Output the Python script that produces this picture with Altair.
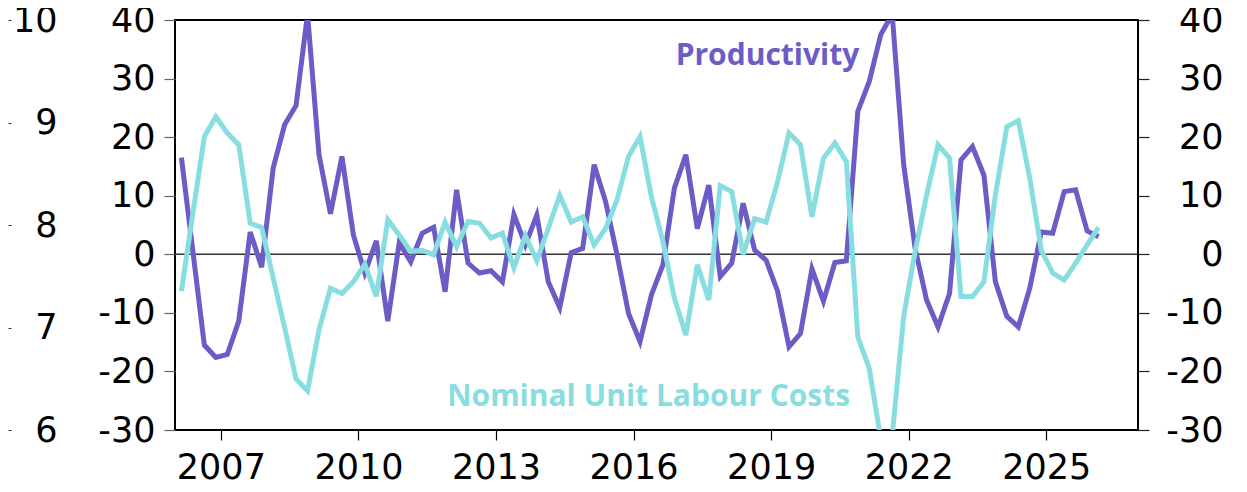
import altair as alt
import pandas as pd

# Quarterly series, % y/y
productivity = [16.5, 0.5, -15.5, -17.6, -17.1, -11.4, 3.8, -2.2, 14.7, 22.1,
                25.4, 41.0, 17.0, 6.9, 16.7, 3.3, -3.2, 2.3, -11.4, 2.0,
                -1.3, 3.6, 4.6, -6.4, 11.0, -1.5, -3.2, -2.8, -4.7, 6.8,
                1.6, 6.7, -4.7, -9.1, 0.3, 1.0, 15.3, 9.0, -0.1, -10.1,
                -14.9, -6.9, -1.8, 11.3, 17.0, 4.4, 11.8, -3.8, -1.5, 8.7,
                0.7, -1.0, -6.3, -15.8, -13.5, -2.5, -8.0, -1.4, -1.1, 24.4,
                29.5, 37.5, 41.0, 15.3, 1.0, -7.8, -12.4, -6.7, 16.1, 18.4,
                13.5, -4.7, -10.6, -12.4, -5.8, 3.8, 3.6, 10.7, 11.0, 4.0,
                3.0]
nulc = [-6.3, 7.0, 20.1, 23.5, 20.7, 18.7, 5.3, 4.6, -4.0, -12.5,
        -21.3, -23.3, -12.9, -5.8, -6.7, -4.7, -1.7, -7.2, 5.9, 3.3,
        0.5, 0.7, -0.1, 5.5, 1.3, 5.6, 5.3, 2.8, 3.6, -2.3,
        3.2, -1.1, 4.4, 10.1, 5.5, 6.4, 1.6, 4.4, 9.3, 16.7,
        20.1, 9.8, 2.2, -7.5, -13.8, -1.8, -7.8, 11.7, 10.7, 0.0,
        6.1, 5.5, 12.4, 20.7, 18.7, 6.4, 16.4, 19.0, 15.8, -14.1,
        -19.5, -31.5, -31.0, -10.6, 0.5, 10.1, 18.7, 16.4, -7.2, -7.2,
        -4.7, 10.1, 21.8, 22.8, 13.0, 0.7, -3.2, -4.4, -1.5, 1.6,
        4.6]
first_quarter = 2006.14
t = [round(first_quarter + 0.25 * i, 3) for i in range(len(productivity))]

x_ticks = [2007, 2010, 2013, 2016, 2019, 2022, 2025]
y_ticks = [-30, -20, -10, 0, 10, 20, 30, 40]
outer_ticks = [6, 7, 8, 9, 10]

labels_text = ["Productivity", "Nominal Unit Labour Costs"]
labels_x = [2018.92, 2016.33]
labels_y = [32.3, -25.85]

PURPLE = "#6B5CC6"
CYAN = "#88DDE0"
FONT = "DejaVu Sans"
W, H = 963, 410
HYPHEN = "'' + datum.value"

df = pd.DataFrame({"t": t, "Productivity": productivity, "NULC": nulc})

xscale = alt.Scale(domain=[2006, 2027], nice=False, zero=False)
yscale = alt.Scale(domain=[-30, 40], nice=False, zero=False)

x_axis = alt.Axis(values=x_ticks, labelExpr=HYPHEN, domain=False, grid=False,
                  tickSize=10, tickColor="#000", tickWidth=1.2,
                  labelFontSize=35, labelFont=FONT, labelColor="#000",
                  labelPadding=10, labelFlush=False, labelOverlap=False, title=None)
y_axis = alt.Axis(values=y_ticks, labelExpr=HYPHEN, orient="left", domain=False, grid=False,
                  tickSize=11, tickColor="#666", tickWidth=1.2,
                  labelFontSize=35, labelFont=FONT, labelColor="#000",
                  labelPadding=9, labelOverlap=False, labelFlush=False, title=None)

rule = alt.Chart(pd.DataFrame({"z": [0]})).mark_rule(color="#333", strokeWidth=1.6).encode(
    y=alt.Y("z:Q", scale=yscale, axis=y_axis))
purple = alt.Chart(df).mark_line(color=PURPLE, strokeWidth=5, clip=True).encode(
    x=alt.X("t:Q", scale=xscale, axis=x_axis),
    y=alt.Y("Productivity:Q", scale=yscale, axis=y_axis))
cyan = alt.Chart(df).mark_line(color=CYAN, strokeWidth=5, clip=True).encode(
    x=alt.X("t:Q", scale=xscale, axis=x_axis),
    y=alt.Y("NULC:Q", scale=yscale, axis=y_axis))

ann = pd.DataFrame({"t": labels_x, "y": labels_y, "text": labels_text})
t1 = alt.Chart(ann.iloc[[0]]).mark_text(font="Open Sans", fontWeight="bold", fontSize=30,
                                        color=PURPLE, align="center", baseline="alphabetic").encode(
    x=alt.X("t:Q", scale=xscale, axis=x_axis),
    y=alt.Y("y:Q", scale=yscale, axis=y_axis), text="text:N")
t2 = alt.Chart(ann.iloc[[1]]).mark_text(font="Open Sans", fontWeight="bold", fontSize=30,
                                        color=CYAN, align="center", baseline="alphabetic").encode(
    x=alt.X("t:Q", scale=xscale, axis=x_axis),
    y=alt.Y("y:Q", scale=yscale, axis=y_axis), text="text:N")

main = alt.layer(rule, purple, cyan, t1, t2)

right = alt.Chart(pd.DataFrame({"v": [-30, 40]})).mark_point(opacity=0).encode(
    y=alt.Y("v:Q", scale=yscale,
            axis=alt.Axis(orient="right", values=y_ticks, labelExpr=HYPHEN, domain=False, grid=False,
                          tickSize=11, tickColor="#222", tickWidth=1.2,
                          labelFontSize=35, labelFont=FONT, labelColor="#000",
                          labelAlign="right", labelPadding=74,
                          labelOverlap=False, labelFlush=False, title=None)))

outer = alt.Chart(pd.DataFrame({"v": [6, 10]})).mark_point(opacity=0).encode(
    y=alt.Y("v:Q", scale=alt.Scale(domain=[6, 10], nice=False, zero=False),
            axis=alt.Axis(orient="right", offset=-1130, values=outer_ticks, domain=False,
                          grid=False, tickSize=3, tickColor="#333", tickWidth=1,
                          labelFontSize=35, labelFont=FONT, labelColor="#000",
                          labelAlign="right", labelPadding=46,
                          labelOverlap=False, labelFlush=False, title=None)))

chart = alt.layer(main, right, outer).resolve_scale(y="independent").properties(
    width=W, height=H, autosize="none",
    padding={"left": 167, "top": 12, "right": 95, "bottom": 54},
    background="white",
).configure_view(stroke="black", strokeWidth=2)

chart.save("out.html", embed_options={"renderer": "svg", "actions": False})
